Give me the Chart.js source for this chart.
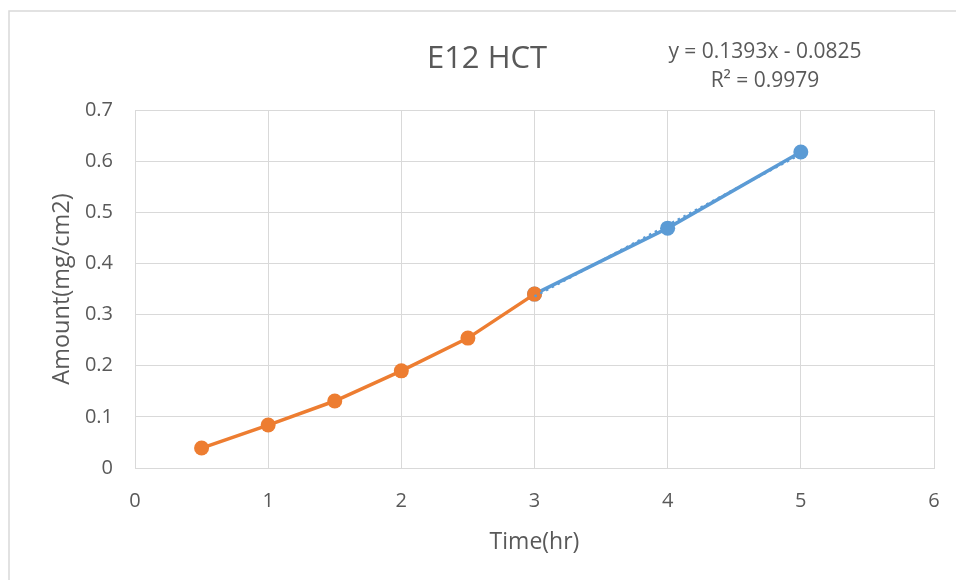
<!DOCTYPE html>
<html>
<head>
<meta charset="utf-8">
<script src="https://cdn.jsdelivr.net/npm/chart.js@4.4.0/dist/chart.umd.min.js"></script>
<style>
  body { margin: 0; background: #fff; }
  canvas { display: block; }
</style>
</head>
<body>
<canvas id="chart" width="956" height="580"></canvas>
<script>
// data
const orangeX = [0.5, 1, 1.5, 2, 2.5, 3];
const orangeY = [0.039, 0.084, 0.131, 0.19, 0.254, 0.34];
const blueX = [3, 4, 5];
const blueY = [0.34, 0.469, 0.618];
// linear trendline of the blue series, y = 0.1393x - 0.0825
const trendX = [3, 5];
const trendY = [0.3354, 0.6140];
const xTicks = [0, 1, 2, 3, 4, 5, 6];
const yTicks = [0, 0.1, 0.2, 0.3, 0.4, 0.5, 0.6, 0.7];

const chartTitle = 'E12 HCT';
const equation = ['y = 0.1393x - 0.0825', 'R² = 0.9979'];

const textColor = '#595959';
const gridColor = '#d9d9d9';
const fontName = "'Open Sans', 'Noto Sans', sans-serif";

function toPoints(xs, ys) {
    return xs.map((x, i) => ({ x: x, y: ys[i] }));
}

// frame, title and trendline label
const extras = {
    id: 'extras',
    beforeDraw(chart) {
        const c = chart.ctx;
        c.save();
        c.strokeStyle = gridColor;
        c.lineWidth = 1.5;
        c.strokeRect(9, 11, 1200, 1200);
        c.restore();
    },
    afterDraw(chart) {
        const c = chart.ctx;
        c.save();
        c.fillStyle = textColor;
        c.textAlign = 'center';
        c.textBaseline = 'alphabetic';
        c.font = '31px ' + fontName;
        c.fillText(chartTitle, 487, 68);
        c.font = '21px ' + fontName;
        c.fillText(equation[0], 765, 58);
        c.fillText(equation[1], 765, 87);
        c.restore();
    }
};

const ctx = document.getElementById('chart');
const myChart = new Chart(ctx, {
    type: 'scatter',
    data: {
        datasets: [
            {
                label: 'trend',
                data: toPoints(trendX, trendY),
                showLine: true,
                borderColor: '#5b9bd5',
                borderWidth: 2.5,
                borderDash: [2.5, 4],
                pointRadius: 0,
                order: 0
            },
            {
                label: 'orange',
                data: toPoints(orangeX, orangeY),
                showLine: true,
                borderColor: '#ed7d31',
                backgroundColor: '#ed7d31',
                borderWidth: 3.5,
                pointRadius: 7.5,
                pointBorderWidth: 0,
                order: 1
            },
            {
                label: 'blue',
                data: toPoints(blueX, blueY),
                showLine: true,
                borderColor: '#5b9bd5',
                backgroundColor: '#5b9bd5',
                borderWidth: 3.5,
                pointRadius: 7.5,
                pointBorderWidth: 0,
                order: 2
            }
        ]
    },
    options: {
        responsive: false,
        animation: false,
        events: [],
        layout: {
            padding: { left: 0, top: 110, right: 22, bottom: 0 }
        },
        plugins: {
            legend: { display: false },
            tooltip: { enabled: false }
        },
        scales: {
            x: {
                type: 'linear',
                min: xTicks[0],
                max: xTicks[xTicks.length - 1],
                afterFit: (scale) => {
                    scale.height = 112;
                    scale.paddingLeft = 0;
                    scale.paddingRight = 0;
                },
                afterBuildTicks: (scale) => { scale.ticks = xTicks.map(v => ({ value: v })); },
                grid: { color: gridColor, drawTicks: false },
                border: { color: gridColor },
                ticks: {
                    padding: 21,
                    color: textColor,
                    font: { family: fontName, size: 20 }
                },
                title: {
                    display: true,
                    text: 'Time(hr)',
                    color: textColor,
                    font: { family: fontName, size: 23 },
                    padding: { top: 0, bottom: 24 }
                }
            },
            y: {
                type: 'linear',
                min: yTicks[0],
                max: yTicks[yTicks.length - 1],
                afterFit: (scale) => {
                    scale.width = 135;
                    scale.paddingTop = 0;
                    scale.paddingBottom = 0;
                },
                afterBuildTicks: (scale) => { scale.ticks = yTicks.map(v => ({ value: v })); },
                grid: { color: gridColor, drawTicks: false },
                border: { color: gridColor },
                ticks: {
                    padding: 22,
                    color: textColor,
                    font: { family: fontName, size: 20 },
                    callback: function(value) {
                        return String(Math.round(value * 10) / 10);
                    }
                },
                title: {
                    display: true,
                    text: 'Amount(mg/cm2)',
                    color: textColor,
                    font: { family: fontName, size: 23.5 },
                    padding: { top: 48, bottom: 0 }
                }
            }
        }
    },
    plugins: [extras]
});
</script>
</body>
</html>
